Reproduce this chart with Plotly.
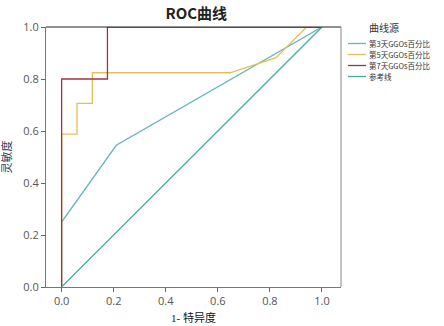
import plotly.graph_objects as go

# ---- data ----
series_names = ["第3天GGOs百分比", "第5天GGOs百分比", "第7天GGOs百分比", "参考线"]

fpr_d3 = [0.0, 0.0, 0.21, 1.0]
tpr_d3 = [0.0, 0.25, 0.545, 1.0]

fpr_d5 = [0.0, 0.0, 0.059, 0.059, 0.118, 0.118, 0.647, 0.824, 0.941, 1.0]
tpr_d5 = [0.0, 0.588, 0.588, 0.706, 0.706, 0.824, 0.824, 0.882, 1.0, 1.0]

fpr_d7 = [0.0, 0.0, 0.176, 0.176, 1.0]
tpr_d7 = [0.0, 0.8, 0.8, 1.0, 1.0]

fpr_ref = [0.0, 1.0]
tpr_ref = [0.0, 1.0]

tick_vals = [0.0, 0.2, 0.4, 0.6, 0.8, 1.0]
tick_text = ["0.0", "0.2", "0.4", "0.6", "0.8", "1.0"]

legend_title = "曲线源"

colors = ["#62b6bd", "#e9bd55", "#9e3446", "#4aa9a2"]

W, H = 444, 326
ML, MR, MT, MB = 46, 103, 27, 39
PW, PH = W - ML - MR, H - MT - MB

fig = go.Figure()
for name, xs, ys, c in zip(series_names,
                           [fpr_d3, fpr_d5, fpr_d7, fpr_ref],
                           [tpr_d3, tpr_d5, tpr_d7, tpr_ref],
                           colors):
    fig.add_trace(go.Scatter(x=xs, y=ys, mode="lines", name=name, showlegend=False,
                             line=dict(color=c, width=1.3), cliponaxis=False))

axis_common = dict(
    tickvals=tick_vals, ticktext=tick_text, ticks="outside", ticklen=4,
    tickcolor="#666", showgrid=False, zeroline=False, showline=True,
    linecolor="#777", linewidth=1,
    tickfont=dict(family="Open Sans, Noto Sans", size=11, color="#555"),
)

fig.update_layout(
    width=W, height=H,
    margin=dict(l=ML, r=MR, t=MT, b=MB, autoexpand=False),
    paper_bgcolor="white", plot_bgcolor="white",
    title=dict(text="<b>ROC曲线</b>", x=0.442, xanchor="center", y=0.958, yanchor="middle",
               pad=dict(t=0, b=0),
               font=dict(family="Noto Sans CJK SC", size=15, color="#222")),
    xaxis=dict(range=[-0.06, 1.073], automargin=False,
               title=dict(text="1- 特异度", standoff=7,
                          font=dict(family="Liberation Serif, Noto Sans CJK SC", size=11, color="#111")),
               **axis_common),
    yaxis=dict(range=[0, 1.0], automargin=False,
               title=dict(text="灵敏度", standoff=14,
                          font=dict(family="Liberation Serif, Noto Sans CJK SC", size=11, color="#2a3a5a")),
               **axis_common),
    showlegend=False,
)

# frame: dark top line and gray right line
fig.add_shape(type="line", xref="paper", yref="paper", x0=0, x1=1, y0=1, y1=1,
              line=dict(color="#222", width=1))
fig.add_shape(type="line", xref="paper", yref="paper", x0=1, x1=1, y0=0, y1=1,
              line=dict(color="#888", width=1))

# legend (drawn manually for compact spacing)
def px_to_paper_x(px):
    return (px - ML) / PW

def py_to_paper_y(py):
    return 1 - (py - MT) / PH

fig.add_annotation(text=legend_title, xref="paper", yref="paper",
                   x=px_to_paper_x(384), y=py_to_paper_y(28), xanchor="center", yanchor="middle",
                   showarrow=False, font=dict(family="Noto Sans CJK SC", size=10, color="#333"))
legend_rows = [43.5, 54.5, 65.5, 76.5]
for name, c, ry in zip(series_names, colors, legend_rows):
    fig.add_shape(type="line", xref="paper", yref="paper",
                  x0=px_to_paper_x(348), x1=px_to_paper_x(366),
                  y0=py_to_paper_y(ry), y1=py_to_paper_y(ry),
                  line=dict(color=c, width=1.3))
    fig.add_annotation(text=name, xref="paper", yref="paper",
                       x=px_to_paper_x(368), y=py_to_paper_y(ry), xanchor="left", yanchor="middle",
                       showarrow=False, borderpad=0,
                       font=dict(family="Noto Sans CJK SC", size=7.5, color="#333"))

fig.write_html("out.html")
